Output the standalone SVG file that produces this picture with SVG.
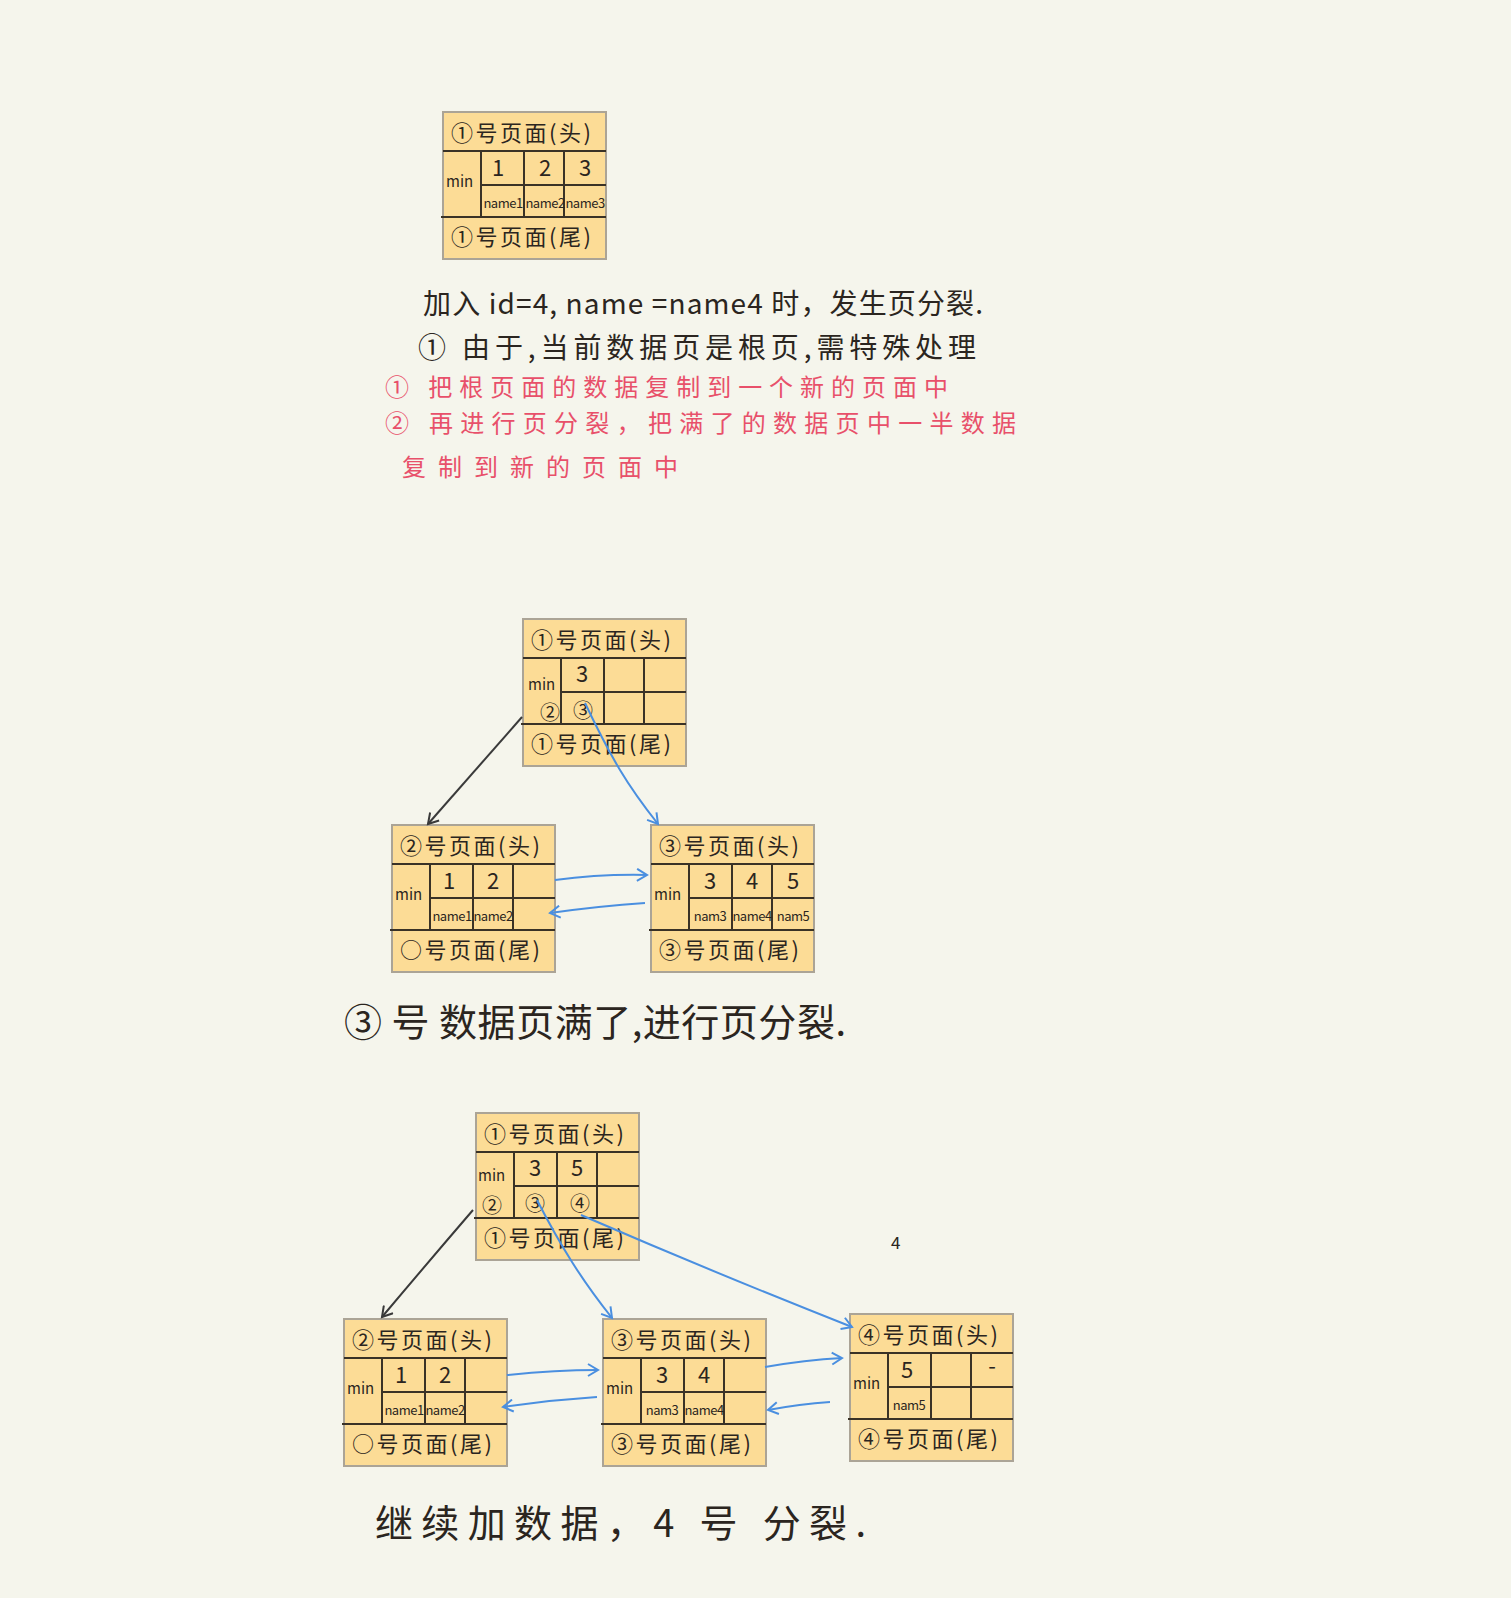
<svg xmlns="http://www.w3.org/2000/svg" width="1511" height="1598" viewBox="0 0 1511 1598">
<style>
.bg{fill:#F5F5EC}
.box{fill:#FCDC96;stroke:#ABA496;stroke-width:2}
.ln{stroke:#3A3226;stroke-width:2;fill:none}
.t{font-family:"Noto Sans CJK SC","Noto Sans",sans-serif;fill:#2B2520}
.hd{font-size:22px}
.mn{font-size:15px}
.num{font-size:22px;text-anchor:middle}
.nm{font-size:13px;text-anchor:middle;letter-spacing:-0.5px}
.circ{font-size:20px;text-anchor:middle}
.big{font-size:28px}
.rd{font-size:24px;fill:#E8506A}
.cap{font-size:38px}
.ab{stroke:#4A8FE0;stroke-width:2;fill:none}
.ak{stroke:#3A3A3A;stroke-width:2;fill:none}
</style>
<defs>
<g id="frame">
<rect class="box" x="0" y="0" width="163" height="147"/>
<path class="ln" d="M0 39H163M38 73H163M-2 105H163M38 39V105M81 39V105M121 39V105"/>
</g>
<marker id="mb" markerWidth="14" markerHeight="14" refX="11" refY="7" orient="auto" markerUnits="userSpaceOnUse">
<path d="M1 1L11 7L1 13" stroke="#4A8FE0" stroke-width="2" fill="none"/>
</marker>
<marker id="mk" markerWidth="14" markerHeight="14" refX="11" refY="7" orient="auto" markerUnits="userSpaceOnUse">
<path d="M1 1L11 7L1 13" stroke="#3A3A3A" stroke-width="2" fill="none"/>
</marker>
</defs>
<rect class="bg" x="0" y="0" width="1511" height="1598"/>

<g id="page1-initial" transform="translate(443,112)">
<use href="#frame"/>
<text class="t hd" x="8" y="29" textLength="140" lengthAdjust="spacing">①号页面(头)</text>
<text class="t mn" x="3" y="75">min</text>
<text class="t num" x="55" y="64">1</text>
<text class="t num" x="102" y="64">2</text>
<text class="t num" x="142" y="64">3</text>
<text class="t nm" x="60" y="96">name1</text>
<text class="t nm" x="102" y="96">name2</text>
<text class="t nm" x="142" y="96">name3</text>
<text class="t hd" x="8" y="133" textLength="140" lengthAdjust="spacing">①号页面(尾)</text>
</g>

<g id="text-top">
<text class="t big" x="423" y="314" textLength="560" lengthAdjust="spacing">加入 id=4, name =name4 时，发生页分裂.</text>
<text class="t big" x="418" y="358" textLength="558" lengthAdjust="spacing">① 由于,当前数据页是根页,需特殊处理</text>
<text class="t rd" x="385" y="396" textLength="563" lengthAdjust="spacing">① 把根页面的数据复制到一个新的页面中</text>
<text class="t rd" x="385" y="432" textLength="631" lengthAdjust="spacing">② 再进行页分裂，把满了的数据页中一半数据</text>
<text class="t rd" x="402" y="476" textLength="276" lengthAdjust="spacing">复制到新的页面中</text>
</g>

<g id="page1-root-mid" transform="translate(523,619)">
<use href="#frame"/>
<text class="t hd" x="8" y="29" textLength="140" lengthAdjust="spacing">①号页面(头)</text>
<text class="t mn" x="5" y="71">min</text>
<text class="t num" x="59" y="63">3</text>
<text class="t circ" x="27" y="101">②</text>
<text class="t circ" x="60" y="99">③</text>
<text class="t hd" x="8" y="133" textLength="140" lengthAdjust="spacing">①号页面(尾)</text>
</g>

<g id="page2-mid" transform="translate(392,825)">
<use href="#frame"/>
<text class="t hd" x="8" y="29" textLength="140" lengthAdjust="spacing">②号页面(头)</text>
<text class="t mn" x="3" y="75">min</text>
<text class="t num" x="57" y="64">1</text>
<text class="t num" x="101" y="64">2</text>
<text class="t nm" x="60" y="96">name1</text>
<text class="t nm" x="101" y="96">name2</text>
<text class="t hd" x="8" y="133" textLength="140" lengthAdjust="spacing">○号页面(尾)</text>
</g>

<g id="page3-mid" transform="translate(651,825)">
<use href="#frame"/>
<text class="t hd" x="8" y="29" textLength="140" lengthAdjust="spacing">③号页面(头)</text>
<text class="t mn" x="3" y="75">min</text>
<text class="t num" x="59" y="64">3</text>
<text class="t num" x="101" y="64">4</text>
<text class="t num" x="142" y="64">5</text>
<text class="t nm" x="59" y="96">nam3</text>
<text class="t nm" x="101" y="96">name4</text>
<text class="t nm" x="142" y="96">nam5</text>
<text class="t hd" x="8" y="133" textLength="140" lengthAdjust="spacing">③号页面(尾)</text>
</g>

<g id="caption-mid">
<text class="t cap" x="344" y="1036" textLength="502" lengthAdjust="spacing">③ 号 数据页满了,进行页分裂.</text>
</g>

<g id="page1-root-bottom" transform="translate(476,1113)">
<use href="#frame"/>
<text class="t hd" x="8" y="29" textLength="140" lengthAdjust="spacing">①号页面(头)</text>
<text class="t mn" x="2" y="68">min</text>
<text class="t num" x="59" y="63">3</text>
<text class="t num" x="101" y="63">5</text>
<text class="t circ" x="16" y="100">②</text>
<text class="t circ" x="59" y="98">③</text>
<text class="t circ" x="104" y="98">④</text>
<text class="t hd" x="8" y="133" textLength="140" lengthAdjust="spacing">①号页面(尾)</text>
</g>

<g id="page2-bottom" transform="translate(344,1319)">
<use href="#frame"/>
<text class="t hd" x="8" y="29" textLength="140" lengthAdjust="spacing">②号页面(头)</text>
<text class="t mn" x="3" y="75">min</text>
<text class="t num" x="57" y="64">1</text>
<text class="t num" x="101" y="64">2</text>
<text class="t nm" x="60" y="96">name1</text>
<text class="t nm" x="101" y="96">name2</text>
<text class="t hd" x="8" y="133" textLength="140" lengthAdjust="spacing">○号页面(尾)</text>
</g>

<g id="page3-bottom" transform="translate(603,1319)">
<use href="#frame"/>
<text class="t hd" x="8" y="29" textLength="140" lengthAdjust="spacing">③号页面(头)</text>
<text class="t mn" x="3" y="75">min</text>
<text class="t num" x="59" y="64">3</text>
<text class="t num" x="101" y="64">4</text>
<text class="t nm" x="59" y="96">nam3</text>
<text class="t nm" x="101" y="96">name4</text>
<text class="t hd" x="8" y="133" textLength="140" lengthAdjust="spacing">③号页面(尾)</text>
</g>

<g id="page4-bottom" transform="translate(850,1314)">
<use href="#frame"/>
<text class="t hd" x="8" y="29" textLength="140" lengthAdjust="spacing">④号页面(头)</text>
<text class="t mn" x="3" y="75">min</text>
<text class="t num" x="57" y="64">5</text>
<text class="t num" x="142" y="60">-</text>
<text class="t nm" x="59" y="96">nam5</text>
<text class="t hd" x="8" y="133" textLength="140" lengthAdjust="spacing">④号页面(尾)</text>
</g>

<g id="stray-4">
<text class="t" x="891" y="1249" font-size="17">4</text>
</g>

<g id="caption-bottom">
<text class="t cap" x="375" y="1537" textLength="491" lengthAdjust="spacing">继续加数据，4 号 分裂.</text>
</g>

<g id="connectors">
<path class="ak" d="M522 717Q480 765 428 824" marker-end="url(#mk)"/>
<path class="ab" d="M585 703Q605 745 620 770T658 824" marker-end="url(#mb)"/>
<path class="ab" d="M555 880Q600 874 647 875" marker-end="url(#mb)"/>
<path class="ab" d="M645 903Q600 906 550 913" marker-end="url(#mb)"/>
<path class="ak" d="M473 1210Q430 1260 382 1317" marker-end="url(#mk)"/>
<path class="ab" d="M537 1200Q555 1235 572 1262T612 1318" marker-end="url(#mb)"/>
<path class="ab" d="M581 1215Q720 1275 852 1327" marker-end="url(#mb)"/>
<path class="ab" d="M507 1375Q555 1370 598 1370" marker-end="url(#mb)"/>
<path class="ab" d="M597 1397Q550 1400 503 1407" marker-end="url(#mb)"/>
<path class="ab" d="M765 1367Q805 1360 842 1358" marker-end="url(#mb)"/>
<path class="ab" d="M830 1402Q800 1404 768 1410" marker-end="url(#mb)"/>
</g>
</svg>
